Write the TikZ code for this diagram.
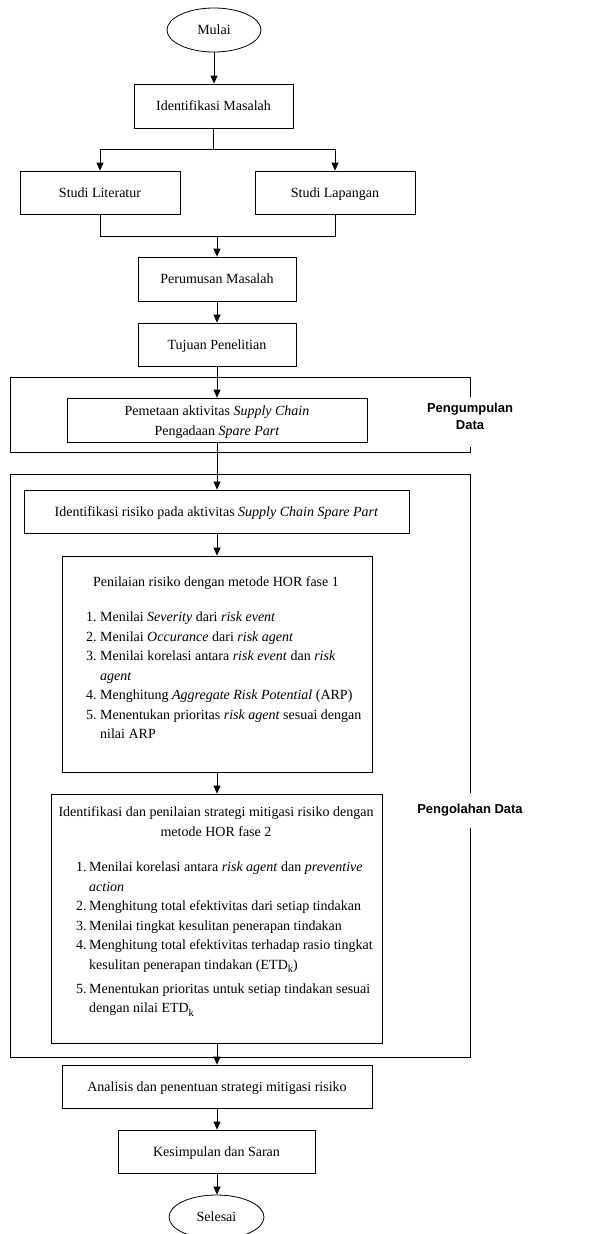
\documentclass[tikz,border=0pt]{standalone}
\usepackage{fontspec}
\setmainfont{Liberation Serif}
\newfontfamily\lblfont{Liberation Sans}
\usetikzlibrary{arrows.meta,shapes.geometric}
\newcommand{\subk}{\raisebox{-3.5pt}{\fontsize{10.5}{10.5}\selectfont k}}
\begin{document}
\begin{tikzpicture}[x=1pt,y=-1pt,
  box/.style={draw, line width=0.8pt, inner sep=0pt, text height=9.5pt, text depth=0pt, font={\fontsize{14}{20}\selectfont}},
  term/.style={box, ellipse},
  arr/.style={line width=0.8pt, -{Triangle[length=8pt,width=7pt]}},
  ln/.style={line width=0.8pt},
  txt/.style={inner sep=0pt, font={\fontsize{14}{19.5}\selectfont}},
  grp/.style={inner sep=0pt, font={\lblfont\bfseries\fontsize{13}{17}\selectfont}, align=center}]
\useasboundingbox (0,0) rectangle (603,1234);

% group frames
\node[grp] (g1) at (470,416) {Pengumpulan\\Data};
\node[grp] (g2) at (470,810) {Pengolahan Data};
\draw[ln] (470,397) -- (470,377) -- (10,377) -- (10,452) -- (470,452) -- (470,447);
\draw[ln] (470,793) -- (470,474) -- (10,474) -- (10,1057) -- (470,1057) -- (470,828);

% nodes
\node[term, minimum width=94pt, minimum height=44pt] (mulai) at (214,30) {Mulai};
\node[box, minimum width=159pt, minimum height=44pt] (im) at (213.5,106) {Identifikasi Masalah};
\node[box, minimum width=160pt, minimum height=43pt] (sl) at (100,192.5) {Studi Literatur};
\node[box, minimum width=160pt, minimum height=43pt] (sp) at (335,192.5) {Studi Lapangan};
\node[box, minimum width=158pt, minimum height=44pt] (pm) at (217,279) {Perumusan Masalah};
\node[box, minimum width=158pt, minimum height=43pt] (tp) at (217,344.5) {Tujuan Penelitian};
\node[box, minimum width=300pt, minimum height=44pt] (pe) at (217,420) {};
\node[txt, anchor=base] (pet) at (217,415.7) {\begin{tabular}[t]{@{}c@{}}
Pemetaan aktivitas \textit{Supply Chain}\\
Pengadaan \textit{Spare Part}
\end{tabular}};
\node[box, minimum width=385pt, minimum height=43pt] (idr) at (216.5,511.5) {Identifikasi risiko pada aktivitas \textit{Supply Chain Spare Part}};

\node[box, minimum width=310pt, minimum height=216pt] (hor1) at (217,664) {};
\node[txt, anchor=base] (h1t) at (216,586.5) {Penilaian risiko dengan metode HOR fase 1};
\node[txt, anchor=base west] (h1l) at (86,621.5) {\begin{tabular}[t]{@{}l@{}}
\makebox[14pt][l]{1.}Menilai \textit{Severity} dari \textit{risk event}\\
\makebox[14pt][l]{2.}Menilai \textit{Occurance} dari \textit{risk agent}\\
\makebox[14pt][l]{3.}Menilai korelasi antara \textit{risk event} dan \textit{risk}\\
\hspace*{14pt}\textit{agent}\\
\makebox[14pt][l]{4.}Menghitung \textit{Aggregate Risk Potential} (ARP)\\
\makebox[14pt][l]{5.}Menentukan prioritas \textit{risk agent} sesuai dengan\\
\hspace*{14pt}nilai ARP
\end{tabular}};

\node[box, minimum width=331pt, minimum height=249pt] (hor2) at (216.5,918.5) {};
\node[txt, anchor=base] (h2t) at (216,816.5) {\begin{tabular}[t]{@{}c@{}}
Identifikasi dan penilaian strategi mitigasi risiko dengan\\
metode HOR fase 2
\end{tabular}};
\node[txt, anchor=base west] (h2l) at (76,871.5) {\begin{tabular}[t]{@{}l@{}}
\makebox[13pt][l]{1.}Menilai korelasi antara \textit{risk agent} dan \textit{preventive}\\
\hspace*{13pt}\textit{action}\\
\makebox[13pt][l]{2.}Menghitung total efektivitas dari setiap tindakan\\
\makebox[13pt][l]{3.}Menilai tingkat kesulitan penerapan tindakan\\
\makebox[13pt][l]{4.}Menghitung total efektivitas terhadap rasio tingkat\\
\hspace*{13pt}kesulitan penerapan tindakan (ETD\subk)\\[4.5pt]
\makebox[13pt][l]{5.}Menentukan prioritas untuk setiap tindakan sesuai\\
\hspace*{13pt}dengan nilai ETD\subk
\end{tabular}};

\node[box, minimum width=310pt, minimum height=43pt] (an) at (217,1086.5) {Analisis dan penentuan strategi mitigasi risiko};
\node[box, minimum width=197pt, minimum height=43pt] (ks) at (216.5,1151.5) {Kesimpulan dan Saran};
\node[term, minimum width=95pt, minimum height=44pt] (se) at (216.5,1217) {Selesai};

% connectors
\draw[arr] (mulai.south) -- (mulai.south |- im.north);
\coordinate (br) at (213.5,149);
\draw[ln] (im.south) -- (br);
\draw[arr] (br) -| (sl.north);
\draw[arr] (br) -| (sp.north);
\coordinate (mg) at (217,236);
\draw[ln] (sl.south) |- (mg);
\draw[ln] (sp.south) |- (mg);
\draw[arr] (mg) -- (mg |- pm.north);
\draw[arr] (pm.south) -- (pm.south |- tp.north);
\draw[arr] (tp.south) -- (tp.south |- pe.north);
\draw[arr] (pe.south) -- (pe.south |- idr.north);
\draw[arr] (pe.south |- idr.south) -- (pe.south |- hor1.north);
\draw[arr] (hor1.south) -- (hor1.south |- hor2.north);
\draw[arr] (hor1.south |- hor2.south) -- (hor1.south |- an.north);
\draw[arr] (an.south) -- (an.south |- ks.north);
\draw[arr] (an.south |- ks.south) -- (an.south |- se.north);
\end{tikzpicture}
\end{document}
